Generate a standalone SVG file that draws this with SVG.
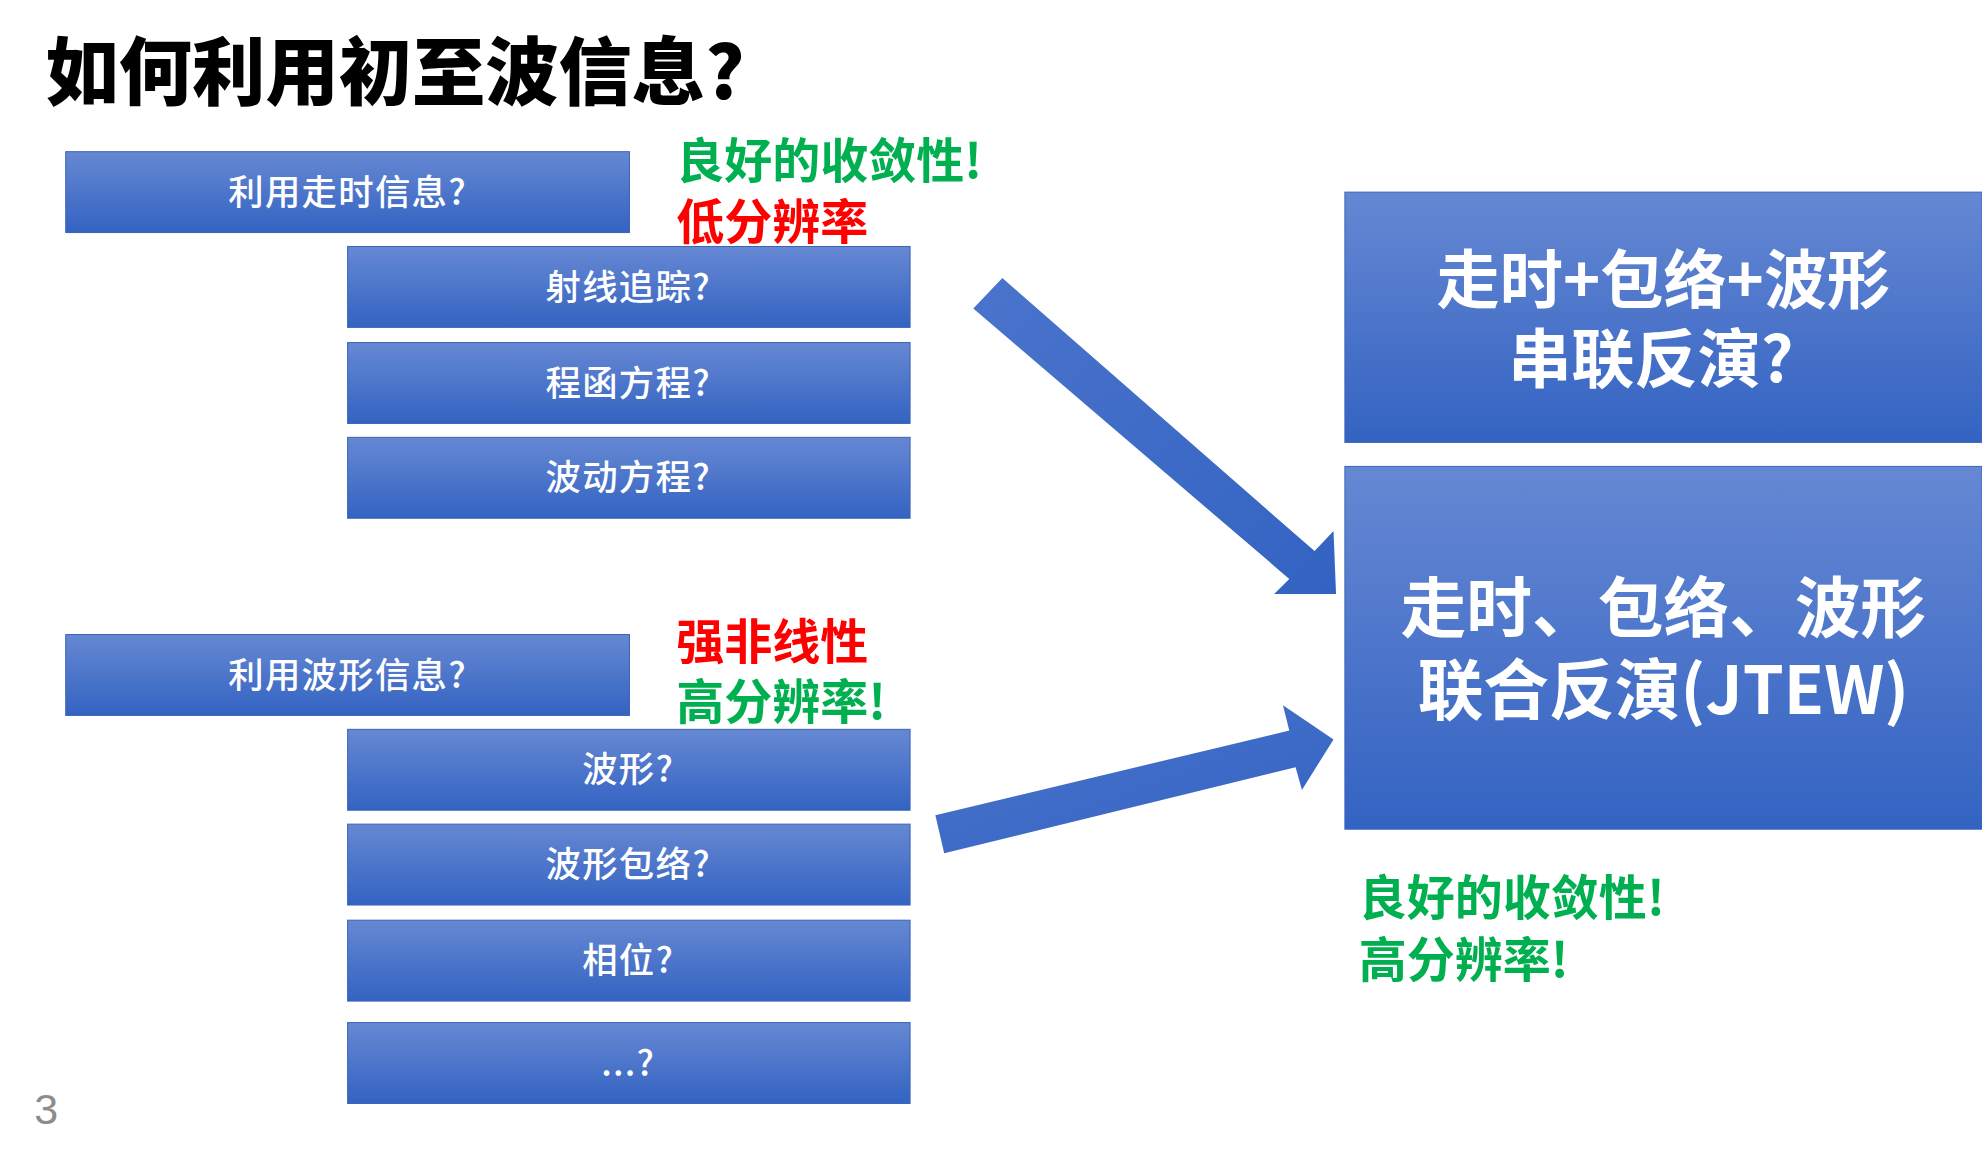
<svg xmlns="http://www.w3.org/2000/svg" width="1982" height="1166" viewBox="0 0 1982 1166">
<defs>
<linearGradient id="g" x1="0" y1="0" x2="0" y2="1"><stop offset="0" stop-color="#6688d3"/><stop offset="1" stop-color="#3363c2"/></linearGradient>
<linearGradient id="ga" x1="0" y1="0" x2="1" y2="1"><stop offset="0" stop-color="#4a74cc"/><stop offset="1" stop-color="#3363c2"/></linearGradient>
<style>
.b{fill:url(#g);stroke:#3a64b8;stroke-width:0.8}
.t{font-family:"Noto Sans CJK SC","Noto Sans",sans-serif;fill:#fff;font-size:28px;text-anchor:middle;font-weight:500;letter-spacing:1px}
.big{font-family:"Noto Sans CJK SC","Noto Sans",sans-serif;fill:#fff;text-anchor:middle;font-weight:bold}
.gr{font-family:"Noto Sans CJK SC",sans-serif;font-weight:bold;font-size:38px;fill:#00b050}
.rd{font-family:"Noto Sans CJK SC",sans-serif;font-weight:bold;font-size:38px;fill:#ff0000}
</style>
</defs>
<rect width="1982" height="1166" fill="#fff"/>
<g transform="scale(1.264)">
<text x="36" y="78" font-family="Noto Sans CJK SC,sans-serif" font-weight="900" font-size="58" fill="#000">如何利用初至波信息?</text>
<g id="n1"><rect class="b" x="52" y="120" width="446" height="64"/><text class="t" x="275" y="162">利用走时信息?</text></g>
<g id="n2"><rect class="b" x="275" y="195" width="445" height="64"/><text class="t" x="497" y="237">射线追踪?</text></g>
<g id="n3"><rect class="b" x="275" y="271" width="445" height="64"/><text class="t" x="497" y="313">程函方程?</text></g>
<g id="n4"><rect class="b" x="275" y="346" width="445" height="64"/><text class="t" x="497" y="388">波动方程?</text></g>
<g id="n5"><rect class="b" x="52" y="502" width="446" height="64"/><text class="t" x="275" y="544">利用波形信息?</text></g>
<g id="n6"><rect class="b" x="275" y="577" width="445" height="64"/><text class="t" x="497" y="619">波形?</text></g>
<g id="n7"><rect class="b" x="275" y="652" width="445" height="64"/><text class="t" x="497" y="694">波形包络?</text></g>
<g id="n8"><rect class="b" x="275" y="728" width="445" height="64"/><text class="t" x="497" y="770">相位?</text></g>
<g id="n9"><rect class="b" x="275" y="809" width="445" height="64"/><text class="t" x="497" y="851">...?</text></g>
<g id="n10"><rect class="b" x="1064" y="152" width="504" height="198"/><text class="big" x="1316" y="240" font-size="50" font-weight="500">走时+包络+波形</text><text class="big" x="1306" y="302" font-size="50" font-weight="500">串联反演?</text></g>
<g id="n11"><rect class="b" x="1064" y="369" width="504" height="287"/><text class="big" x="1316" y="500" font-size="52" font-weight="500">走时、包络、波形</text><text class="big" x="1316" y="565" font-size="52">联合反演(JTEW)</text></g>
<g id="labels">
<text class="gr" x="535" y="141">良好的收敛性!</text>
<text class="rd" x="535" y="189">低分辨率</text>
<text class="rd" x="535" y="521">强非线性</text>
<text class="gr" x="535" y="569">高分辨率!</text>
<text class="gr" x="1075" y="724">良好的收敛性!</text>
<text class="gr" x="1075" y="773">高分辨率!</text>
<text x="27" y="889" font-family="Liberation Sans,sans-serif" font-size="34" fill="#8c8c8c">3</text>
</g>
<g id="connectors" fill="url(#ga)">
<polygon points="770,244 793,220 1040,436 1055,420 1057,470 1008,470 1020,458"/>
<polygon points="740,645 1020,578 1015,558 1055,585 1030,625 1025,607 747,675"/>
</g>
</g>
</svg>
